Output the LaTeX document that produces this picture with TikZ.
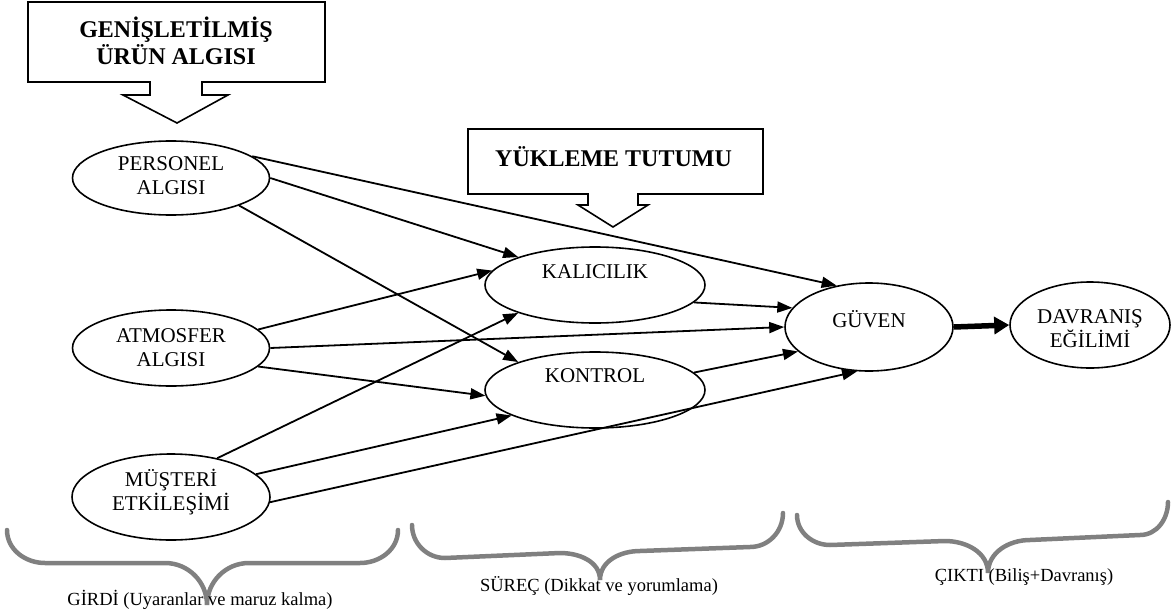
\documentclass[tikz,border=0pt]{standalone}
\usepackage{fontspec}
\setmainfont{Liberation Serif}
\usetikzlibrary{arrows.meta,shapes.geometric}
\definecolor{braceGray}{HTML}{808080}
\begin{document}
\begin{tikzpicture}[x=1pt,y=-1pt,
  oval/.style={draw,ellipse,line width=1.6pt,inner sep=0pt},
  lbl/.style={font=\fontsize{21}{24}\selectfont,align=center,inner sep=0pt},
  conn/.style={line width=1.8pt,-{Triangle[length=15pt,width=11pt]}},
  calloutshape/.style={draw,line width=1.6pt,fill=white,line join=miter},
  bracepath/.style={draw=braceGray,line width=4.5pt,line cap=round},
  captext/.style={font=\fontsize{18.5}{22}\selectfont,inner sep=0pt},
  titletext/.style={font=\bfseries\fontsize{24}{27}\selectfont,align=center,inner sep=0pt},
]
\useasboundingbox (0,0) rectangle (1171,616);

% callouts
\draw[calloutshape] (28,2) -- (325,2) -- (325,82) -- (202,82) -- (202,95) -- (228,95) -- (177,123) -- (123,95) -- (150,95) -- (150,82) -- (28,82) -- cycle;
\node[titletext] (t1) at (176,41) {GENİŞLETİLMİŞ\\ÜRÜN ALGISI};
\draw[calloutshape] (468,129) -- (763,129) -- (763,194) -- (638,194) -- (638,205) -- (648,205) -- (613,227) -- (578,205) -- (588,205) -- (588,194) -- (468,194) -- cycle;
\node[titletext,anchor=west] (t2) at (495,157) {YÜKLEME TUTUMU};

% ellipses
\node[oval,minimum width=197pt,minimum height=74pt] (per) at (171,178) {};
\node[oval,minimum width=197pt,minimum height=76pt] (atm) at (171,348) {};
\node[oval,minimum width=198pt,minimum height=86pt] (mus) at (171,497) {};
\node[oval,minimum width=220pt,minimum height=76pt] (kal) at (595,285) {};
\node[oval,minimum width=220pt,minimum height=76pt] (kon) at (595,390) {};
\node[oval,minimum width=168pt,minimum height=88pt] (guv) at (869,327) {};
\node[oval,minimum width=160pt,minimum height=86pt] (dav) at (1090,325) {};

\node[lbl] (perT) at (171,176) {PERSONEL\\ALGISI};
\node[lbl] (atmT) at (171,348) {ATMOSFER\\ALGISI};
\node[lbl] (musT) at (171,492) {MÜŞTERİ\\ETKİLEŞİMİ};
\node[lbl] (kalT) at (595,272) {KALICILIK};
\node[lbl] (konT) at (595,376) {KONTROL};
\node[lbl] (guvT) at (869,319) {GÜVEN};
\node[lbl] (davT) at (1090,329) {DAVRANIŞ\\EĞİLİMİ};

% connectors
\draw[conn] (per.15) -- (guv.128);
\draw[conn] (per.0) -- (kal.160);
\draw[conn] (per.-22) -- (kon.160);
\draw[conn] (atm.12) -- (kal.172);
\draw[conn] (atm.east) -- (guv.west);
\draw[conn] (atm.-12) -- (kon.183);
\draw[conn] (mus.40) -- (kal.200);
\draw[conn] (mus.15) -- (kon.197);
\draw[conn] (mus.-3) -- (guv.255);
\draw[conn] (kal.-10) -- (guv.166);
\draw[conn] (kon.10) -- (guv.199);
\draw[line width=5.5pt,-{Triangle[length=15pt,width=17pt]}] (guv.east) -- (dav.west);

% braces
\draw[bracepath] (7,530) to[out=-90,in=180] (45,563) -- (165,563) to[out=0,in=90] (207,605) to[out=90,in=180] (249,563) -- (360,563) to[out=0,in=-90] (398,530);
\draw[bracepath] (412,525) to[out=-90,in=180] (445,558) -- (560,553) to[out=0,in=90] (600,580) to[out=90,in=180] (640,551) -- (750,547) to[out=0,in=-90] (783,513);
\draw[bracepath] (797,515) to[out=-90,in=180] (830,545) -- (945,541) to[out=0,in=90] (988,573) to[out=90,in=180] (1030,540) -- (1140,535) to[out=0,in=-90] (1168,502);

\node[captext] (c1) at (200,600) {GİRDİ (Uyaranlar ve maruz kalma)};
\node[captext] (c2) at (599,586) {SÜREÇ (Dikkat ve yorumlama)};
\node[captext] (c3) at (1024,577) {ÇIKTI (Biliş+Davranış)};
\end{tikzpicture}
\end{document}
